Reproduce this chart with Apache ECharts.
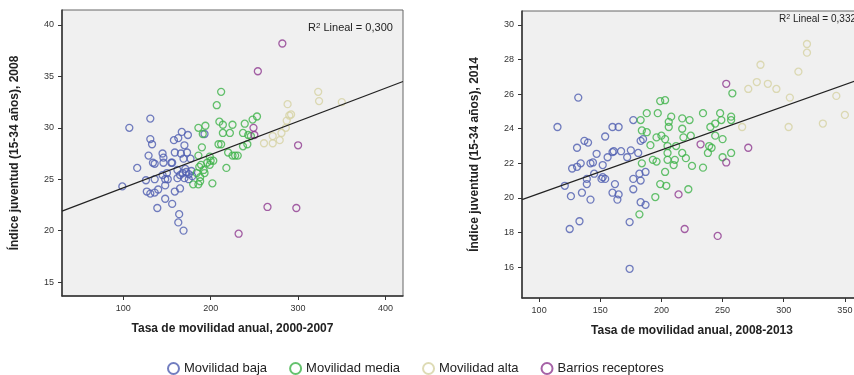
<!DOCTYPE html>
<html>
<head>
<meta charset="utf-8">
<script src="https://cdn.jsdelivr.net/npm/echarts@6/dist/echarts.min.js"></script>
<style>
    html, body {margin: 0; padding: 0; background: #fff;}
    #chart {width: 854px; height: 375px;}
</style>
</head>
<body>
<div id="chart"></div>
<script>
// categories (legend order)
var groups = ["Movilidad baja", "Movilidad media", "Movilidad alta", "Barrios receptores"];
var groupColors = ["#4f5eb0", "#3fb34a", "#d6d2a2", "#8e3a90"];

// left panel: tasa 2000-2007 vs indice juventud 2008
var bajaA = [[107, 30.0], [131, 30.9], [131, 28.9], [133, 28.4], [129, 27.3], [145, 27.5], [146, 27.1], [134, 26.6],
    [136, 26.5], [146, 26.6], [155, 26.6], [158, 28.8], [163, 29.0], [167, 29.6], [174, 29.3], [170, 28.3], [159, 27.6],
    [166, 27.5], [173, 27.6], [169, 27.0], [177, 27.0], [193, 29.4], [116, 26.1], [99, 24.3], [126, 24.9], [127, 23.8],
    [131, 23.6], [136, 23.7], [140, 24.0], [148, 24.4], [136, 25.0], [145, 25.4], [148, 25.0], [151, 25.0], [148, 23.1],
    [156, 22.6], [139, 22.2], [159, 23.8], [165, 24.1], [164, 21.6], [163, 20.8], [169, 20.0], [156, 26.6], [162, 25.9],
    [165, 25.4], [168, 25.6], [172, 25.7], [175, 25.5], [170, 25.1], [175, 25.0], [179, 25.3], [171, 26.0], [150, 25.6],
    [162, 25.1], [178, 25.8]];
var mediaA = [[212, 33.5], [207, 32.2], [210, 30.6], [214, 30.3], [225, 30.3], [253, 31.1], [248, 30.8], [239, 30.4],
    [186, 30.0], [194, 30.2], [191, 29.4], [214, 29.5], [222, 29.5], [237, 29.5], [243, 29.3], [246, 29.2], [242, 28.4],
    [237, 28.2], [209, 28.4], [212, 28.4], [190, 28.1], [220, 27.6], [225, 27.3], [228, 27.3], [231, 27.3], [186, 27.3],
    [199, 27.2], [200, 26.8], [203, 26.8], [189, 26.4], [199, 26.4], [218, 26.1], [187, 26.2], [192, 25.9], [184, 25.6],
    [188, 25.2], [180, 24.5], [186, 24.5], [188, 24.8], [202, 24.6], [193, 25.6], [196, 26.6]];
var altaA = [[323, 33.5], [324, 32.6], [350, 32.5], [288, 32.3], [292, 31.3], [290, 31.2], [287, 30.7], [286, 30.0],
    [281, 29.5], [271, 29.2], [261, 28.5], [271, 28.5], [279, 28.8]];
var receptA = [[282, 38.2], [254, 35.5], [249, 30.0], [250, 29.3], [300, 28.3], [265, 22.3], [298, 22.2], [232, 19.7]];
var fitA = [[30, 21.9], [420, 34.5]];
var r2A = "0,300";

// right panel: tasa 2008-2013 vs indice juventud 2014
var bajaB = [[132, 25.8], [115, 24.1], [160, 24.1], [165, 24.1], [177, 24.5], [154, 23.55], [137, 23.3], [140, 23.2],
    [131, 22.9], [147, 22.55], [160, 22.65], [161, 22.7], [167, 22.7], [175, 22.75], [181, 22.6], [172, 22.35],
    [156, 22.35], [144, 22.05], [134, 22.0], [131, 21.8], [152, 21.9], [183, 23.3], [185, 23.4], [142, 22.0],
    [121, 20.7], [126, 20.1], [135, 20.3], [139, 20.8], [139, 21.1], [142, 19.9], [151, 21.1], [152, 21.2], [154, 21.1],
    [162, 20.8], [160, 20.3], [165, 20.2], [164, 19.9], [177, 21.1], [177, 20.5], [183, 21.0], [182, 21.4], [187, 21.5],
    [183, 19.75], [187, 19.6], [174, 18.6], [133, 18.65], [125, 18.2], [174, 15.9], [127, 21.7], [145, 21.4]];
var mediaB = [[258, 26.05], [234, 24.9], [248, 24.9], [257, 24.7], [257, 24.5], [249, 24.5], [244, 24.3], [240, 24.1],
    [217, 24.6], [223, 24.5], [217, 24.0], [218, 23.5], [224, 23.6], [244, 23.6], [250, 23.4], [239, 23.0], [241, 22.9],
    [238, 22.6], [217, 22.6], [220, 22.3], [257, 22.6], [250, 22.35], [225, 21.85], [234, 21.75], [183, 24.5],
    [188, 24.9], [197, 24.9], [199, 25.6], [203, 25.65], [208, 24.7], [206, 24.1], [206, 24.4], [184, 23.9], [188, 23.8],
    [196, 23.5], [200, 23.6], [203, 23.4], [191, 23.05], [205, 23.0], [212, 23.0], [205, 22.6], [193, 22.2], [196, 22.1],
    [205, 22.2], [211, 22.2], [184, 22.0], [210, 21.9], [203, 21.5], [199, 20.8], [204, 20.7], [195, 20.05],
    [182, 19.05], [222, 20.5]];
var altaB = [[319, 28.9], [319, 28.4], [281, 27.7], [312, 27.3], [278, 26.7], [287, 26.6], [294, 26.3], [271, 26.3],
    [305, 25.8], [343, 25.9], [350, 24.8], [266, 24.1], [304, 24.1], [332, 24.3]];
var receptB = [[253, 26.6], [232, 23.1], [271, 22.9], [253, 22.05], [214, 20.2], [219, 18.2], [246, 17.8]];
var fitB = [[86, 19.9], [364, 26.9]];
var r2B = "0,332";

// tick labels
var ticksXA = [100, 200, 300, 400];
var ticksYA = [15, 20, 25, 30, 35, 40];
var ticksXB = [100, 150, 200, 250, 300, 350];
var ticksYB = [16, 18, 20, 22, 24, 26, 28, 30];

var FONT = "Liberation Sans";
var myChart = echarts.init(document.getElementById("chart"));

var makeAxis = function (idx, min, max, ticks, name, gap, vertical) {
    var ax = {
        type: "value",
        gridIndex: idx,
        min: min,
        max: max,
        name: name,
        nameLocation: "middle",
        nameGap: gap,
        nameTextStyle: {fontFamily: FONT, fontSize: 12, fontWeight: "bold", color: "#222"},
        axisLine: {show: true, onZero: false, lineStyle: {color: "#333", width: 1.5}},
        axisTick: {show: true, length: 4, inside: false, customValues: ticks, lineStyle: {color: "#333"}},
        axisLabel: {show: true, customValues: ticks, fontFamily: FONT, fontSize: 9, color: "#333", margin: 8},
        splitLine: {show: false}
    };
    if (vertical) {
        ax.nameRotate = 90;
    }
    return ax;
};

var series = [];
var addScatter = function (idx, name, color, data) {
    series.push({
        name: name,
        type: "scatter",
        xAxisIndex: idx,
        yAxisIndex: idx,
        data: data,
        symbol: "circle",
        symbolSize: 7,
        color: color,
        itemStyle: {color: "rgba(0,0,0,0)", borderColor: color, borderWidth: 1.3},
        emphasis: {disabled: true}
    });
};
var panelA = [bajaA, mediaA, altaA, receptA];
var panelB = [bajaB, mediaB, altaB, receptB];
for (var i = 0; i < groups.length; i++) {
    addScatter(0, groups[i], groupColors[i], panelA[i]);
    addScatter(1, groups[i], groupColors[i], panelB[i]);
}
// regression lines
series.push({type: "line", xAxisIndex: 0, yAxisIndex: 0, data: fitA, showSymbol: false, silent: true,
    lineStyle: {color: "#222", width: 1.2}});
series.push({type: "line", xAxisIndex: 1, yAxisIndex: 1, data: fitB, showSymbol: false, silent: true,
    lineStyle: {color: "#222", width: 1.2}});

var option = {
    animation: false,
    backgroundColor: "#fff",
    grid: [
        {left: 62, top: 10, width: 341, height: 286, show: true, backgroundColor: "#f0f0f0",
            borderColor: "#666", borderWidth: 1, outerBoundsMode: "none"},
        {left: 522, top: 11, width: 340, height: 287, show: true, backgroundColor: "#f0f0f0",
            borderColor: "#666", borderWidth: 1, outerBoundsMode: "none"}
    ],
    xAxis: [
        makeAxis(0, 30, 420, ticksXA, "Tasa de movilidad anual, 2000-2007", 27, false),
        makeAxis(1, 86, 364, ticksXB, "Tasa de movilidad anual, 2008-2013", 27, false)
    ],
    yAxis: [
        makeAxis(0, 13.64, 41.46, ticksYA, "Índice juventud (15-34 años), 2008", 41, true),
        makeAxis(1, 14.21, 30.81, ticksYB, "Índice juventud (15-34 años), 2014", 41, true)
    ],
    legend: {
        data: groups,
        left: 162,
        top: 357,
        icon: "circle",
        itemWidth: 11,
        itemHeight: 11,
        itemGap: 22,
        textStyle: {fontFamily: FONT, fontSize: 13, color: "#222"}
    },
    graphic: [
        {type: "text", left: 308, top: 22, style: {
            text: "R{s|2} Lineal = " + r2A, fontFamily: FONT, fontSize: 11, fill: "#222",
            rich: {s: {fontSize: 8, verticalAlign: "top", fontFamily: FONT, fill: "#222"}}}},
        {type: "text", left: 779, top: 14, style: {
            text: "R{s|2} Lineal = " + r2B, fontFamily: FONT, fontSize: 10, fill: "#222",
            rich: {s: {fontSize: 7, verticalAlign: "top", fontFamily: FONT, fill: "#222"}}}}
    ],
    series: series
};
myChart.setOption(option);
</script>
</body>
</html>
